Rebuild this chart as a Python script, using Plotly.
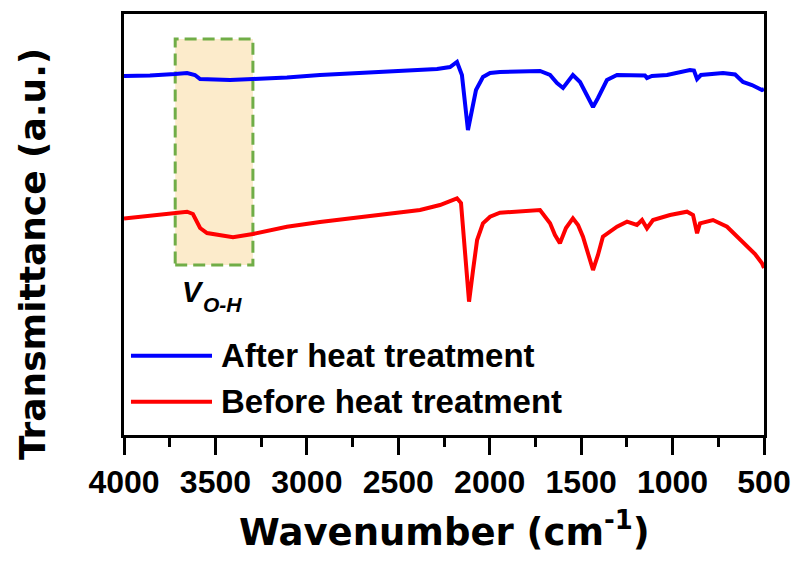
import plotly.graph_objects as go

# ---- data (transmittance in arbitrary units) ----
after_wn = [4000, 3858, 3721, 3655, 3612, 3584, 3502, 3420, 3295, 3109, 2928, 2748, 2562,
            2381, 2288, 2217, 2179, 2152, 2135, 2119, 2097, 2075, 2037, 1998, 1944, 1834,
            1725, 1670, 1632, 1599, 1572, 1545, 1506, 1468, 1435, 1408, 1359, 1304, 1195,
            1151, 1140, 1113, 1030, 905, 883, 866, 845, 724, 658, 615, 566, 511, 500]
after_t = [359, 359.5, 361, 362, 360, 356, 355.5, 355, 356, 357.5, 360, 361.5, 363,
           364.5, 366, 368, 373, 360, 330, 305, 325, 345, 358, 362, 363, 363,
           364, 360, 352, 347, 353, 360, 353, 340, 328, 337, 355, 360, 359,
           359.5, 357, 359, 360, 365, 364.5, 356, 360, 362, 360.5, 353, 350, 345, 346]

before_wn = [4000, 3858, 3732, 3655, 3623, 3584, 3546, 3475, 3404, 3295, 3109, 2928, 2748,
             2562, 2381, 2272, 2201, 2179, 2157, 2135, 2113, 2091, 2069, 2037, 1998, 1944,
             1834, 1725, 1670, 1643, 1616, 1583, 1545, 1517, 1490, 1462, 1435, 1408, 1381,
             1304, 1249, 1195, 1167, 1140, 1107, 1014, 921, 888, 866, 850, 779, 702, 648,
             593, 549, 511, 500]
before_t = [216.5, 219, 221.7, 223.3, 221, 207, 202, 200, 197.7, 201, 208.3, 213, 216.7,
            221, 225, 230, 235, 236.7, 232, 185, 133.3, 165, 195, 211.7, 218.3, 222.3,
            223.3, 225, 211.7, 200, 191.7, 207, 216.7, 210, 198.3, 180, 165, 180, 198.3,
            208.3, 213.3, 210, 215, 206.7, 215, 220, 223.3, 220, 201.7, 211.7, 215, 208.3, 199,
            188.3, 181, 171.7, 167]

series_names = ["After heat treatment", "Before heat treatment"]
series_colors = ["#0000FF", "#FF0000"]

tick_vals = [4000, 3500, 3000, 2500, 2000, 1500, 1000, 500]
tick_labels = ["4000", "3500", "3000", "2500", "2000", "1500", "1000", "500"]

box_wn = [3720, 3295]
box_t = [170, 396]

x_title = "Wavenumber (cm<sup>-1</sup>)"
y_title = "Transmittance (a.u.)"

# ---- figure ----
fig = go.Figure()
fig.add_trace(go.Scatter(x=after_wn, y=after_t, mode="lines", name=series_names[0],
                         line=dict(color=series_colors[0], width=4), showlegend=False))
fig.add_trace(go.Scatter(x=before_wn, y=before_t, mode="lines", name=series_names[1],
                         line=dict(color=series_colors[1], width=4), showlegend=False))

# highlighted O-H region
fig.add_shape(type="rect", xref="x", yref="y", x0=box_wn[0], x1=box_wn[1], y0=box_t[0], y1=box_t[1],
              fillcolor="#FCEBCB", line=dict(color="#70AD47", width=3, dash="12px,6px"), layer="below")

fig.add_annotation(x=3623, y=143, xref="x", yref="y", text="<b><i>V</i></b>", showarrow=False,
                   font=dict(family="Liberation Sans", size=29, color="black"))
fig.add_annotation(x=3464, y=131, xref="x", yref="y", text="<b><i>O-H</i></b>", showarrow=False,
                   font=dict(family="Liberation Sans", size=21, color="black"))

# manual legend (long line samples as in the reference)
leg_y = [0.1884, 0.0791]
for name, color, yy in zip(series_names, series_colors, leg_y):
    fig.add_shape(type="line", xref="paper", yref="paper", x0=0.0109, x1=0.1375, y0=yy, y1=yy,
                  line=dict(color=color, width=4))
    fig.add_annotation(x=0.1484, y=yy, xref="paper", yref="paper", xanchor="left", yanchor="middle",
                       text="<b>" + name + "</b>", showarrow=False,
                       font=dict(family="Liberation Sans", size=33, color="black"))

# axis titles
fig.add_annotation(x=0.5, y=-0.225, xref="paper", yref="paper", xanchor="center", yanchor="middle",
                   text="<b>" + x_title + "</b>", showarrow=False,
                   font=dict(family="DejaVu Sans", size=37, color="black"))
fig.add_annotation(x=-0.142, y=0.43, xref="paper", yref="paper", xanchor="center", yanchor="middle",
                   text="<b>" + y_title + "</b>", showarrow=False, textangle=-90,
                   font=dict(family="DejaVu Sans", size=36, color="black"))

# page body has an 8px default margin, so the figure is drawn 8px in from the corner
fig.update_layout(
    width=793, height=553,
    margin=dict(l=116, r=37, t=6, b=126, autoexpand=False),
    paper_bgcolor="white", plot_bgcolor="white",
    showlegend=False,
)
fig.update_xaxes(
    range=[4000, 500], showgrid=False, zeroline=False, automargin=False,
    showline=True, linecolor="black", linewidth=3, mirror=True,
    ticks="outside", ticklen=17, tickwidth=3, tickcolor="black",
    tickvals=tick_vals, ticktext=tick_labels, ticklabelstandoff=0,
    tickfont=dict(family="Liberation Sans", size=32, color="black", weight="bold"),
    minor=dict(ticks="outside", ticklen=9, tickwidth=3, tickcolor="black", tick0=500, dtick=250),
)
fig.update_yaxes(
    range=[0, 421], showgrid=False, zeroline=False, automargin=False,
    showline=True, linecolor="black", linewidth=3, mirror=True,
    ticks="", showticklabels=False,
)

fig.write_html("out.html")
